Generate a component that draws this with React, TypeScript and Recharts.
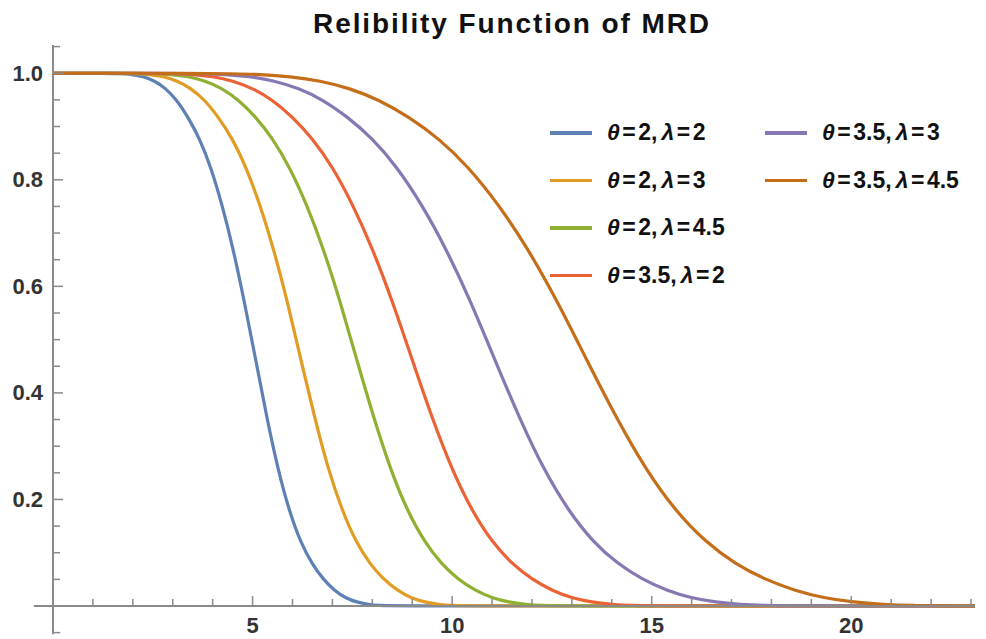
import { LineChart, Line, XAxis, YAxis, ReferenceLine, Legend } from 'recharts';

const FONT = '"Liberation Sans", Arial, sans-serif';
const AXIS = '#8a8a8a';
const INK = '#333333';

const thetas = [2, 2, 2, 3.5, 3.5, 3.5];
const lambdas = [2, 3, 4.5, 2, 3, 4.5];
const colors = ['#5e81b5', '#e19c24', '#8fb032', '#eb6235', '#8778b3', '#c56e1a'];

// reliability levels, and for each curve the x where it is read to cross each level
const levels = [1, 1, 0.999, 0.998, 0.994, 0.986, 0.972, 0.95, 0.918, 0.878, 0.825, 0.755, 0.672, 0.573, 0.462, 0.352, 0.255, 0.178, 0.12, 0.079, 0.05, 0.029, 0.015, 0.007, 0.003, 0.001, 0, 0];

const blueX = [0, 1.41, 1.69, 1.97, 2.26, 2.54, 2.82, 3.1, 3.38, 3.67, 3.95, 4.23, 4.51, 4.79, 5.08, 5.36, 5.64, 5.92, 6.2, 6.49, 6.77, 7.05, 7.33, 7.61, 7.9, 8.18, 8.46, 23.1];
const orangeX = [0, 1.73, 2.07, 2.42, 2.76, 3.11, 3.45, 3.8, 4.14, 4.49, 4.83, 5.18, 5.52, 5.87, 6.21, 6.56, 6.9, 7.25, 7.59, 7.94, 8.28, 8.63, 8.97, 9.32, 9.66, 10.01, 10.35, 23.1];
const greenX = [0, 2.12, 2.54, 2.96, 3.38, 3.81, 4.23, 4.65, 5.08, 5.5, 5.92, 6.35, 6.77, 7.19, 7.61, 8.04, 8.46, 8.88, 9.31, 9.73, 10.15, 10.58, 11.0, 11.42, 11.84, 12.27, 12.69, 23.1];
const redX = [0, 2.5, 3.0, 3.5, 4.0, 4.5, 5.0, 5.5, 6.0, 6.5, 7.0, 7.5, 8.0, 8.5, 9.0, 9.5, 10.0, 10.5, 11.0, 11.5, 12.0, 12.5, 13.0, 13.5, 14.0, 14.5, 15.0, 23.1];
const purpleX = [0, 3.08, 3.69, 4.31, 4.92, 5.54, 6.15, 6.77, 7.38, 8.0, 8.61, 9.23, 9.84, 10.46, 11.07, 11.69, 12.3, 12.92, 13.53, 14.15, 14.76, 15.38, 15.99, 16.61, 17.22, 17.84, 18.45, 23.1];
const brownX = [0, 3.72, 4.46, 5.2, 5.94, 6.69, 7.43, 8.17, 8.92, 9.66, 10.4, 11.15, 11.89, 12.63, 13.37, 14.12, 14.86, 15.6, 16.35, 17.09, 17.83, 18.58, 19.32, 20.06, 20.8, 21.55, 22.29, 23.1];

const xTicks = [1, 2, 3, 4, 5, 6, 7, 8, 9, 10, 11, 12, 13, 14, 15, 16, 17, 18, 19, 20, 21, 22, 23];
const xLabels = [5, 10, 15, 20];
const yTicks = [0.05, 0.1, 0.15, 0.2, 0.25, 0.3, 0.35, 0.4, 0.45, 0.5, 0.55, 0.6, 0.65, 0.7, 0.75, 0.8, 0.85, 0.9, 0.95, 1.0, 1.05];
const yLabels = [0.2, 0.4, 0.6, 0.8, 1.0];

const curves = [blueX, orangeX, greenX, redX, purpleX, brownX].map((xs) =>
  xs.map((x, i) => ({ x, r: levels[i] }))
);

function XTick({ x, y, payload }: any) {
  const major = xLabels.includes(payload.value);
  return (
    <g>
      <line x1={x} y1={y} x2={x} y2={y - (major ? 10 : 7)} stroke={AXIS} strokeWidth={1.5} />
      {major && (
        <text x={x} y={y + 19} textAnchor="middle" dominantBaseline="central" fill={INK}
          style={{ fontFamily: FONT, fontWeight: 700, fontSize: 22 }}>
          {payload.value}
        </text>
      )}
    </g>
  );
}

function YTick({ x, y, payload }: any) {
  const major = yLabels.includes(payload.value);
  return (
    <g>
      <line x1={x} y1={y} x2={x + (major ? 10 : 7)} y2={y} stroke={AXIS} strokeWidth={1.5} />
      {major && (
        <text x={x - 10} y={y} textAnchor="end" dominantBaseline="central" fill={INK}
          style={{ fontFamily: FONT, fontWeight: 700, fontSize: 22 }}>
          {payload.value.toFixed(1)}
        </text>
      )}
    </g>
  );
}

// θ and λ italic, a little room round "=" and after ","
function formatLabel(s: string) {
  return s.split('').map((ch, i) => {
    if (ch === 'θ' || ch === 'λ') return <i key={i}>{ch}</i>;
    if (ch === '=') return <span key={i} style={{ margin: '0 2.5px' }}>=</span>;
    if (ch === ',') return <span key={i} style={{ marginRight: 4 }}>,</span>;
    return <span key={i}>{ch}</span>;
  });
}

function LegendBox({ payload }: any) {
  return (
    <div style={{
      display: 'grid', gridAutoFlow: 'column', gridTemplateRows: 'repeat(4, 47.6px)',
      gridTemplateColumns: '215px 200px', fontFamily: FONT, fontWeight: 700, fontSize: 23, color: '#111',
    }}>
      {(payload ?? []).map((entry: any) => (
        <div key={entry.value} style={{ display: 'flex', alignItems: 'center', whiteSpace: 'nowrap' }}>
          <span style={{ display: 'inline-block', width: 42, height: 3.5, background: entry.color, marginRight: 15 }} />
          <span>{formatLabel(String(entry.value))}</span>
        </div>
      ))}
    </div>
  );
}

export default function App() {
  return (
    <div style={{ position: 'relative', width: 978, height: 631 }}>
      <div style={{
        position: 'absolute', left: 204, top: 0, width: 600, textAlign: 'center', whiteSpace: 'nowrap',
        fontFamily: FONT, fontWeight: 700, fontSize: 28, lineHeight: '32px', letterSpacing: 1.9, color: '#111',
      }}>
        Relibility Function of MRD
      </div>
      <LineChart width={978} height={631} margin={{ top: 37, right: 11, bottom: 0, left: 0 }}>
        <XAxis
          type="number"
          dataKey="x"
          domain={[0, 23.1]}
          ticks={xTicks}
          interval={0}
          tickSize={0}
          tickMargin={0}
          tickLine={false}
          axisLine={{ stroke: AXIS, strokeWidth: 2 }}
          height={33}
          tick={(p: any) => <XTick {...p} />}
        />
        <YAxis
          type="number"
          domain={[0, 1.053]}
          ticks={yTicks}
          interval={0}
          tickSize={0}
          tickMargin={0}
          tickLine={false}
          axisLine={{ stroke: AXIS, strokeWidth: 2 }}
          width={45}
          tick={(p: any) => <YTick {...p} />}
        />
        <ReferenceLine segment={[{ x: -0.48, y: 0 }, { x: 0, y: 0 }]} stroke={AXIS} strokeWidth={2} ifOverflow="visible" />
        <ReferenceLine segment={[{ x: 0, y: -0.053 }, { x: 0, y: 0 }]} stroke={AXIS} strokeWidth={2} ifOverflow="visible" />
        <ReferenceLine segment={[{ x: 0, y: -0.05 }, { x: 0.18, y: -0.05 }]} stroke={AXIS} strokeWidth={1.5} ifOverflow="visible" />
        <Legend
          layout="horizontal"
          verticalAlign="middle"
          align="center"
          wrapperStyle={{ left: 542, top: 101, width: 430 }}
          content={(p: any) => <LegendBox {...p} />}
        />
        {curves.map((pts, i) => (
          <Line
            key={i}
            data={pts}
            dataKey="r"
            type="basis"
            name={`θ=${thetas[i]},λ=${lambdas[i]}`}
            stroke={colors[i]}
            strokeWidth={3.2}
            dot={false}
            isAnimationActive={false}
          />
        ))}
      </LineChart>
    </div>
  );
}
